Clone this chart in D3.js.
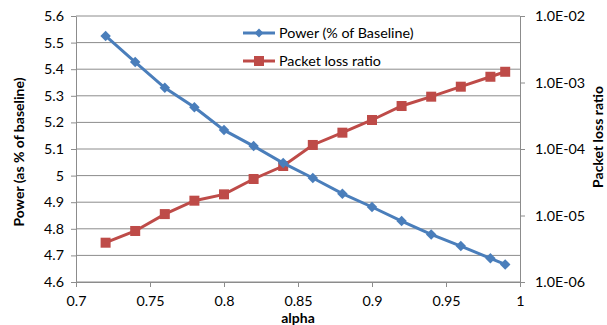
<!DOCTYPE html>
<html>
<head>
<meta charset="utf-8">
<script src="https://cdn.jsdelivr.net/npm/d3@7"></script>
<style>
  body { margin: 0; background: #fff; }
  svg text { font-family: Lato, "Open Sans", sans-serif; fill: #000; }
  .axis-title { font-size: 14px; font-weight: bold; }
  .legend text { font-size: 14.3px; }
</style>
</head>
<body>
<div id="chart"></div>
<script>
const alpha = [0.72, 0.74, 0.76, 0.78, 0.80, 0.82, 0.84, 0.86, 0.88, 0.90, 0.92, 0.94, 0.96, 0.98, 0.99];
const power = [5.525, 5.427, 5.33, 5.257, 5.171, 5.111, 5.047, 4.991, 4.932, 4.882, 4.829, 4.779, 4.735, 4.689, 4.666];
const lossRatio = [3.9e-6, 5.85e-6, 1.05e-5, 1.67e-5, 2.08e-5, 3.54e-5, 5.55e-5, 1.15e-4, 1.76e-4, 2.73e-4, 4.43e-4, 6.12e-4, 8.65e-4, 1.22e-3, 1.45e-3];
const xTicks = [0.7, 0.75, 0.8, 0.85, 0.9, 0.95, 1];
const powerTicks = [4.6, 4.7, 4.8, 4.9, 5, 5.1, 5.2, 5.3, 5.4, 5.5, 5.6];
const lossTicks = [1e-6, 1e-5, 1e-4, 1e-3, 1e-2];
const seriesNames = ["Power (% of Baseline)", "Packet loss ratio"];

const margin = { top: 16, right: 87, bottom: 43, left: 76 };
const width = 607 - margin.left - margin.right;
const height = 325 - margin.top - margin.bottom;

const blue = "#4a7ebb";
const red = "#be4b48";
const grid = "#8c8c8c";

const svg = d3.select("#chart")
    .append("svg")
    .attr("width", 607)
    .attr("height", 325)
    .append("g")
    .attr("transform", `translate(${margin.left}, ${margin.top})`);

const x = d3.scaleLinear().domain([0.7, 1]).range([0, width]);
const yL = d3.scaleLinear().domain([4.6, 5.6]).range([height, 0]);
const yR = d3.scaleLog().domain([1e-6, 1e-2]).range([height, 0]);

// gridlines
svg.append("g")
    .selectAll("line")
    .data(powerTicks)
    .join("line")
    .attr("x1", 0).attr("x2", width)
    .attr("y1", d => yL(d)).attr("y2", d => yL(d))
    .attr("stroke", grid)
    .attr("stroke-width", 1);

function styleAxis(g) {
    g.select(".domain").attr("stroke", grid);
    g.selectAll(".tick line").attr("stroke", grid);
}

svg.append("g")
    .attr("transform", `translate(0, ${height})`)
    .call(d3.axisBottom(x).tickValues(xTicks).tickSize(5).tickSizeOuter(0).tickPadding(9).tickFormat(d3.format("")))
    .call(styleAxis);

svg.append("g")
    .call(d3.axisLeft(yL).tickValues(powerTicks).tickSize(5).tickSizeOuter(0).tickPadding(7).tickFormat(d3.format("")))
    .call(styleAxis);

const expFmt = d => {
    const e = Math.round(Math.log10(d));
    return "1.0E" + (e < 0 ? "-" : "+") + String(Math.abs(e)).padStart(2, "0");
};

svg.append("g")
    .attr("transform", `translate(${width}, 0)`)
    .call(d3.axisRight(yR).tickValues(lossTicks).tickSize(5).tickSizeOuter(0).tickPadding(10).tickFormat(expFmt))
    .call(styleAxis);

svg.selectAll(".tick text").attr("font-size", "14.3px").attr("font-family", "Lato, sans-serif");

// axis titles
svg.append("text")
    .attr("class", "axis-title")
    .attr("text-anchor", "middle")
    .attr("x", width / 2)
    .attr("y", height + 41)
    .text("alpha");

svg.append("text")
    .attr("class", "axis-title")
    .attr("text-anchor", "middle")
    .attr("transform", `translate(-52, ${height / 2 + 3}) rotate(-90)`)
    .text("Power (as % of baseline)");

svg.append("text")
    .attr("class", "axis-title")
    .attr("text-anchor", "middle")
    .attr("transform", `translate(${width + 83}, ${121}) rotate(-90)`)
    .text("Packet loss ratio");

// series
const powerData = alpha.map((a, i) => ({ a, v: power[i] }));
const lossData = alpha.map((a, i) => ({ a, v: lossRatio[i] }));

const lineP = d3.line().x(d => x(d.a)).y(d => yL(d.v));
const lineR = d3.line().x(d => x(d.a)).y(d => yR(d.v));

svg.append("path")
    .datum(lossData)
    .attr("d", lineR)
    .attr("fill", "none")
    .attr("stroke", red)
    .attr("stroke-width", 3);

svg.append("g")
    .selectAll("rect")
    .data(lossData)
    .join("rect")
    .attr("x", d => x(d.a) - 5)
    .attr("y", d => yR(d.v) - 5)
    .attr("width", 10)
    .attr("height", 10)
    .attr("fill", red);

svg.append("path")
    .datum(powerData)
    .attr("d", lineP)
    .attr("fill", "none")
    .attr("stroke", blue)
    .attr("stroke-width", 3);

const diamond = d3.symbol().type(d3.symbolDiamond2).size(70);
svg.append("g")
    .selectAll("path")
    .data(powerData)
    .join("path")
    .attr("d", diamond)
    .attr("transform", d => `translate(${x(d.a)}, ${yL(d.v)})`)
    .attr("fill", blue);

// legend
const legend = svg.append("g")
    .attr("class", "legend")
    .attr("transform", `translate(167, 17)`);

seriesNames.forEach((name, i) => {
    const g = legend.append("g").attr("transform", `translate(0, ${i * 28})`);
    const c = i === 0 ? blue : red;
    g.append("line")
        .attr("x1", 0).attr("x2", 32)
        .attr("stroke", c).attr("stroke-width", 3);
    if (i === 0) {
        g.append("path").attr("d", d3.symbol().type(d3.symbolDiamond2).size(50)).attr("transform", "translate(16,0)").attr("fill", c);
    } else {
        g.append("rect").attr("x", 11).attr("y", -5).attr("width", 10).attr("height", 10).attr("fill", c);
    }
    g.append("text")
        .attr("x", 36)
        .attr("dy", "0.35em")
        .text(name);
});
</script>
</body>
</html>
